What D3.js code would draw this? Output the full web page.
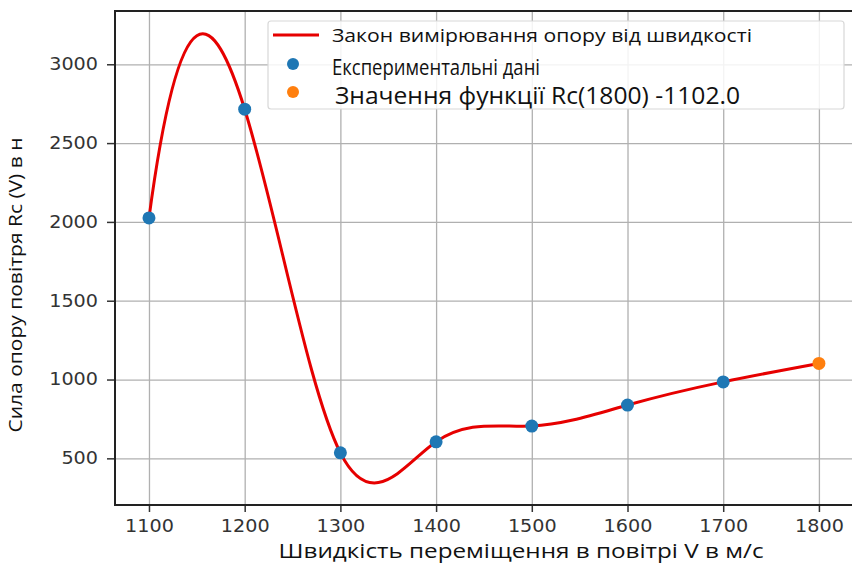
<!DOCTYPE html>
<html>
 <head>
   <meta charset="utf-8">
   <title>Rc(V)</title>
   <script type="text/javascript" src="https://cdn.jsdelivr.net/npm/d3@7"></script>
   <style type="text/css">
		body {
			margin: 0;
			background: white;
		}
		svg {
			display: block;
		}
		.tick text {
			font-family: "DejaVu Sans";
			font-size: 17px;
			fill: #333;
		}
		.grid line {
			stroke: #b0b0b0;
			stroke-width: 1.3;
		}
		.grid path {
			display: none;
		}
		.legend text, .label {
			font-family: "Open Sans";
			fill: #111;
		}
   </style>
 </head>
 <body>
   <script type="text/javascript">

	// experimental data
	var speeds = [1100, 1200, 1300, 1400, 1500, 1600, 1700];
	var forces = [2025, 2715, 535, 605, 705, 838, 985];
	// function value Rc(1800)
	var predSpeed = [1800];
	var predForce = [1102];

	var xTicks = [1100, 1200, 1300, 1400, 1500, 1600, 1700, 1800];
	var yTicks = [500, 1000, 1500, 2000, 2500, 3000];

	var legendLabels = ['Закон вимірювання опору від швидкості', 'Експериментальні дані', 'Значення функції Rc(1800) -1102.0'];

	var W = 852, H = 564;
	var pLeft = 115, pRight = 855, pTop = 11, pBottom = 505;

	var x = d3.scaleLinear().domain([1064.5, 1837.7]).range([pLeft, pRight]);
	var y = d3.scaleLinear().domain([204, 3338]).range([pBottom, pTop]);

	// cubic spline with not-a-knot ends (same as scipy CubicSpline)
	function slopes(v) {
		var n = v.length, A = [], i, j, k;
		for ( i = 0; i < n; i++ ) {
			var row = new Array(n + 1).fill(0);
			if ( i == 0 ) { row[0] = 1; row[1] = -2; row[2] = 1; }
			else if ( i == n - 1 ) { row[n-3] = 1; row[n-2] = -2; row[n-1] = 1; }
			else {
				row[i-1] = 1; row[i] = 4; row[i+1] = 1;
				row[n] = 6 * (v[i+1] - 2 * v[i] + v[i-1]);
			}
			A.push(row);
		}
		for ( k = 0; k < n; k++ ) {
			var p = k;
			for ( i = k + 1; i < n; i++ ) if ( Math.abs(A[i][k]) > Math.abs(A[p][k]) ) p = i;
			var t = A[k]; A[k] = A[p]; A[p] = t;
			for ( i = k + 1; i < n; i++ ) {
				var f = A[i][k] / A[k][k];
				for ( j = k; j <= n; j++ ) A[i][j] -= f * A[k][j];
			}
		}
		var M = new Array(n).fill(0);
		for ( i = n - 1; i >= 0; i-- ) {
			var s = A[i][n];
			for ( j = i + 1; j < n; j++ ) s -= A[i][j] * M[j];
			M[i] = s / A[i][i];
		}
		var d = [];
		for ( i = 0; i < n - 1; i++ ) d.push( (v[i+1] - v[i]) - (2 * M[i] + M[i+1]) / 6 );
		d.push( (v[n-1] - v[n-2]) + (M[n-2] + 2 * M[n-1]) / 6 );
		return d;
	}

	function NotAKnot(context) { this._context = context; }
	NotAKnot.prototype = {
		areaStart: function() { this._line = 0; },
		areaEnd: function() { this._line = NaN; },
		lineStart: function() { this._x = []; this._y = []; },
		point: function(px, py) { this._x.push(+px); this._y.push(+py); },
		lineEnd: function() {
			var xs = this._x, ys = this._y, n = xs.length, c = this._context;
			if ( !n ) return;
			c.moveTo(xs[0], ys[0]);
			if ( n < 4 ) {
				for ( var i = 1; i < n; i++ ) c.lineTo(xs[i], ys[i]);
				return;
			}
			var dx = slopes(xs), dy = slopes(ys);
			for ( var i = 0; i < n - 1; i++ ) {
				c.bezierCurveTo(xs[i] + dx[i] / 3, ys[i] + dy[i] / 3,
					xs[i+1] - dx[i+1] / 3, ys[i+1] - dy[i+1] / 3,
					xs[i+1], ys[i+1]);
			}
		}
	};
	var curveNotAKnot = function(context) { return new NotAKnot(context); };

	var svg = d3.select('body').append('svg')
		.attr('width', W)
		.attr('height', H);

	svg.append('rect').attr('width', W).attr('height', H).attr('fill', 'white');

	// grid
	svg.append('g')
		.attr('class', 'grid')
		.attr('transform', 'translate(0,' + pBottom + ')')
		.call( d3.axisBottom(x).tickValues(xTicks).tickSize(-(pBottom - pTop)).tickFormat('') );
	svg.append('g')
		.attr('class', 'grid')
		.attr('transform', 'translate(' + pLeft + ',0)')
		.call( d3.axisLeft(y).tickValues(yTicks).tickSize(-(pRight - pLeft)).tickFormat('') );

	// the law curve through all points incl. Rc(1800)
	var curveX = speeds.concat(predSpeed), curveY = forces.concat(predForce);
	var line = d3.line()
		.x(function(d) { return x(d[0]); })
		.y(function(d) { return y(d[1]); })
		.curve(curveNotAKnot);

	svg.append('path')
		.datum( d3.zip(curveX, curveY) )
		.attr('d', line)
		.attr('fill', 'none')
		.attr('stroke', '#e60000')
		.attr('stroke-width', 3);

	svg.selectAll('circle.exp').data( d3.zip(speeds, forces) )
		.enter().append('circle')
		.attr('class', 'exp')
		.attr('cx', function(d) { return x(d[0]); })
		.attr('cy', function(d) { return y(d[1]); })
		.attr('r', 6.5)
		.attr('fill', '#1f77b4');

	svg.selectAll('circle.pred').data( d3.zip(predSpeed, predForce) )
		.enter().append('circle')
		.attr('class', 'pred')
		.attr('cx', function(d) { return x(d[0]); })
		.attr('cy', function(d) { return y(d[1]); })
		.attr('r', 6.5)
		.attr('fill', '#ff7f0e');

	// axes
	var xAxis = svg.append('g')
		.attr('transform', 'translate(0,' + pBottom + ')')
		.call( d3.axisBottom(x).tickValues(xTicks).tickFormat(d3.format('d')).tickSize(7).tickPadding(7) );
	var yAxis = svg.append('g')
		.attr('transform', 'translate(' + pLeft + ',0)')
		.call( d3.axisLeft(y).tickValues(yTicks).tickFormat(d3.format('d')).tickSize(8).tickPadding(9) );

	[xAxis, yAxis].forEach(function(a) {
		a.select('.domain').remove();
		a.selectAll('.tick line').attr('stroke', '#333').attr('stroke-width', 1.5);
		a.selectAll('.tick text')
			.attr('textLength', function(d) { return String(d).length * 12.2; })
			.attr('lengthAdjust', 'spacingAndGlyphs');
	});
	xAxis.selectAll('.tick text').attr('dy', '0.78em');

	// spines
	svg.append('path')
		.attr('d', 'M' + pRight + ',' + pTop + 'H' + pLeft + 'V' + pBottom + 'H' + pRight)
		.attr('fill', 'none')
		.attr('stroke', '#222')
		.attr('stroke-width', 2);

	// legend
	var lg = svg.append('g').attr('class', 'legend');
	lg.append('rect')
		.attr('x', 268).attr('y', 21)
		.attr('width', 576).attr('height', 88)
		.attr('rx', 3)
		.attr('fill', 'white').attr('fill-opacity', 0.85)
		.attr('stroke', '#d8d8d8').attr('stroke-width', 1.2);
	lg.append('line')
		.attr('x1', 273).attr('x2', 319).attr('y1', 35).attr('y2', 35)
		.attr('stroke', '#e60000').attr('stroke-width', 3);
	lg.append('circle').attr('cx', 293).attr('cy', 64).attr('r', 6).attr('fill', '#1f77b4');
	lg.append('circle').attr('cx', 293).attr('cy', 92).attr('r', 6).attr('fill', '#ff7f0e');

	var legendText = [
		{ x: 332, y: 41.5, size: 18.5, len: 420 },
		{ x: 332, y: 75, size: 21, len: 208 },
		{ x: 335, y: 104, size: 23, len: 405 }
	];
	lg.selectAll('text').data( legendText )
		.enter().append('text')
		.attr('x', function(d) { return d.x; })
		.attr('y', function(d) { return d.y; })
		.attr('font-size', function(d) { return d.size; })
		.attr('textLength', function(d) { return d.len; })
		.attr('lengthAdjust', 'spacingAndGlyphs')
		.text( function(d, i) { return legendLabels[i]; } );

	// axis labels
	svg.append('text')
		.attr('class', 'label')
		.attr('x', 521).attr('y', 558)
		.attr('text-anchor', 'middle')
		.attr('font-size', 20.5)
		.attr('textLength', 485)
		.attr('lengthAdjust', 'spacingAndGlyphs')
		.text('Швидкість переміщення в повітрі V в м/с');

	svg.append('text')
		.attr('class', 'label')
		.attr('transform', 'translate(22,285) rotate(-90)')
		.attr('text-anchor', 'middle')
		.attr('font-size', 18)
		.attr('textLength', 295)
		.attr('lengthAdjust', 'spacingAndGlyphs')
		.text('Сила опору повітря Rc (V) в н');

    </script>
 </body>
</html>
